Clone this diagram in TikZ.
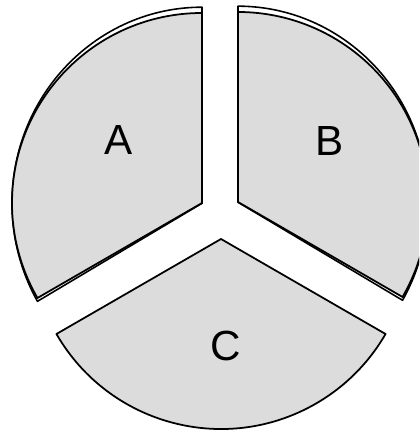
\documentclass[tikz,border=0pt]{standalone}
\usepackage{fontspec}
\setmainfont{Liberation Sans}
\definecolor{sectorgray}{RGB}{220,220,220}
\begin{document}
\begin{tikzpicture}[x=0.02cm, y=0.02cm,
  sector/.style={draw=black, fill=sectorgray, line width=1pt, line join=round},
  rim/.style={draw=black, line width=0.9pt, line join=round},
  lbl/.style={font=\fontsize{24}{28}\selectfont}]
\useasboundingbox (0,0) rectangle (419,432);
\clip (0,0) rectangle (419,432);

\coordinate (cA) at (202,229);
\coordinate (cB) at (238,230);
\coordinate (cC) at (221,193);

% rims behind A and B
\begin{scope}[shift={(0,238)}, yscale=1.032, shift={(0,-238)}]
\draw[rim] (202,229) -- ++(90:190) arc[start angle=90, end angle=210, radius=190] -- cycle;
\draw[rim] (238,230) -- ++(-30:190) arc[start angle=-30, end angle=90, radius=190] -- cycle;
\end{scope}

% sectors
\draw[sector] (cA) -- ++(90:190) arc[start angle=90, end angle=210, radius=190] -- cycle;
\draw[sector] (cB) -- ++(-30:190) arc[start angle=-30, end angle=90, radius=190] -- cycle;
\draw[sector] (cC) -- ++(210:190) arc[start angle=210, end angle=330, radius=190] -- cycle;

\node[lbl] (A) at (119,292) {A};
\node[lbl] (B) at (330,291) {B};
\node[lbl] (C) at (226,86) {C};
\end{tikzpicture}
\end{document}
